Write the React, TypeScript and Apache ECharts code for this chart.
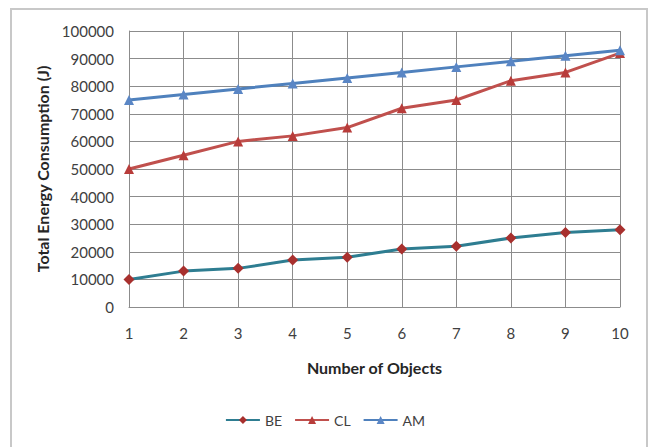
import React, { useEffect, useRef } from "react";
import * as echarts from "echarts";

const categories = ["1", "2", "3", "4", "5", "6", "7", "8", "9", "10"];
const beValues = [10000, 13000, 14000, 17000, 18000, 21000, 22000, 25000, 27000, 28000];
const clValues = [50000, 55000, 60000, 62000, 65000, 72000, 75000, 82000, 85000, 92000];
const amValues = [75000, 77000, 79000, 81000, 83000, 85000, 87000, 89000, 91000, 93000];

const FONT = "Lato, 'Open Sans', sans-serif";

export default function App() {
  const ref = useRef<HTMLDivElement>(null);
  useEffect(() => {
    if (!ref.current) return;
    const chart = echarts.init(ref.current, undefined, { renderer: "svg" });
    chart.setOption({
      animation: false,
      backgroundColor: "#ffffff",
      textStyle: { fontFamily: FONT },
      graphic: [
        {
          type: "rect",
          shape: { x: 11, y: 9, width: 636, height: 460 },
          style: { fill: "none", stroke: "#c8c8c8", lineWidth: 2 },
          silent: true,
        },
      ],
      grid: { left: 129, right: 30, top: 31, bottom: 140 },
      legend: {
        bottom: 15,
        left: "center",
        itemWidth: 34,
        itemHeight: 10,
        itemGap: 12,
        textStyle: { fontFamily: FONT, fontSize: 14, color: "#404040" },
        data: ["BE", "CL", "AM"],
      },
      xAxis: {
        type: "category",
        data: categories,
        boundaryGap: false,
        name: "Number of Objects",
        nameLocation: "middle",
        nameGap: 52,
        nameTextStyle: { fontFamily: FONT, fontSize: 16, fontWeight: "bold", color: "#262626" },
        axisLine: { show: true, lineStyle: { color: "#8c8c8c", width: 1 } },
        axisTick: { show: false },
        axisLabel: { margin: 18, fontFamily: FONT, fontSize: 15, color: "#404040" },
        splitLine: { show: true, lineStyle: { color: "#8c8c8c", width: 1 } },
      },
      yAxis: {
        type: "value",
        min: 0,
        max: 100000,
        interval: 10000,
        name: "Total Energy Consumption (J)",
        nameLocation: "middle",
        nameGap: 76,
        nameTextStyle: { fontFamily: FONT, fontSize: 16, fontWeight: "bold", color: "#262626" },
        axisLine: { show: true, lineStyle: { color: "#8c8c8c", width: 1 } },
        axisTick: { show: false },
        axisLabel: {
          margin: 15,
          fontFamily: FONT,
          fontSize: 15,
          color: "#404040",
          formatter: (v: number) => String(v),
        },
        splitLine: { show: true, lineStyle: { color: "#8c8c8c", width: 1 } },
      },
      series: [
        {
          name: "BE",
          type: "line",
          data: beValues,
          symbol: "diamond",
          symbolSize: 11,
          lineStyle: { color: "#2e7d91", width: 3 },
          itemStyle: { color: "#a8302e" },
          z: 3,
        },
        {
          name: "CL",
          type: "line",
          data: clValues,
          symbol: "triangle",
          symbolSize: 10,
          lineStyle: { color: "#c0504d", width: 3 },
          itemStyle: { color: "#b83c3a" },
          z: 3,
        },
        {
          name: "AM",
          type: "line",
          data: amValues,
          symbol: "triangle",
          symbolSize: 10,
          lineStyle: { color: "#4f81bd", width: 3 },
          itemStyle: { color: "#5a86c5" },
          z: 4,
        },
      ],
    });
    return () => chart.dispose();
  }, []);
  return <div ref={ref} style={{ width: 650, height: 447, position: "absolute", left: 0, top: 0 }} />;
}
